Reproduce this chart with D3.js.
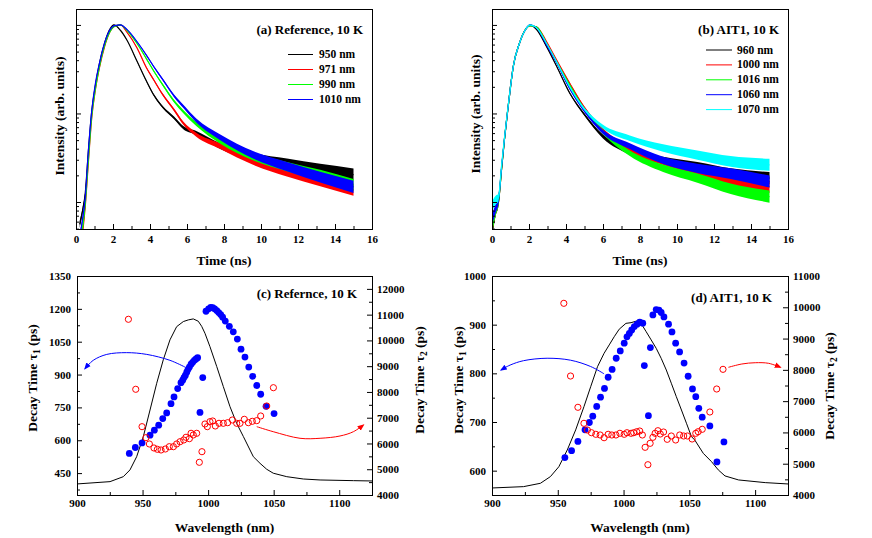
<!DOCTYPE html>
<html><head><meta charset="utf-8">
<script src="https://cdn.jsdelivr.net/npm/d3@7"></script>
<style>
body{margin:0;background:#fff;}
svg{display:block;}
</style></head><body>
<svg id="chart" width="872" height="538"></svg>
<script>
// ---------------- DATA ----------------
// Panel (a): Reference, 10 K — normalized intensity vs time (ns)
const tA = [0.2,0.35,0.5,0.67,0.85,1.05,1.25,1.55,1.85,2.05,2.4,2.75,3.3,3.8,4.2,4.7,5.3,5.8,6.5,7.8,9.6,11.4,13.2,15.0];
const a950  = [0.0056,0.0079,0.0126,0.038,0.105,0.209,0.355,0.631,0.912,1.0,0.871,0.676,0.389,0.234,0.162,0.117,0.0891,0.0692,0.0603,0.0427,0.0324,0.0275,0.0234,0.0204];
const a971  = [0.0032,0.0045,0.0089,0.0282,0.0891,0.186,0.316,0.575,0.851,0.955,1.0,0.832,0.55,0.331,0.24,0.162,0.11,0.0776,0.0575,0.0427,0.0288,0.0219,0.0174,0.0138];
const a990  = [0.0032,0.005,0.0095,0.0302,0.0933,0.191,0.324,0.589,0.851,0.955,1.0,0.871,0.617,0.417,0.302,0.209,0.138,0.105,0.0759,0.049,0.0324,0.0251,0.02,0.0155];
const a1010 = [0.004,0.0063,0.0112,0.038,0.107,0.219,0.355,0.631,0.891,0.977,1.0,0.891,0.646,0.457,0.339,0.24,0.158,0.12,0.0832,0.0537,0.0339,0.0251,0.0191,0.0148];
const noiseA = [0.04,0.03,0.02,0.01,0.006,0.004,0.003,0.003,0.003,0.003,0.003,0.004,0.006,0.008,0.01,0.012,0.015,0.018,0.022,0.032,0.042,0.052,0.062,0.07]; // half-width (decades) of noise band
const legendA = ["950 nm","971 nm","990 nm","1010 nm"];

// Panel (b): AIT1, 10 K
const tB = [0,0.2,0.35,0.52,0.67,0.83,1.0,1.15,1.48,1.85,2.05,2.4,2.95,3.5,4.2,4.95,6.0,7.45,9.25,11.1,12.9,15.0];
const b960  = [0.0045,0.0079,0.01,0.024,0.0501,0.1,0.2,0.339,0.617,0.912,1.0,0.891,0.569,0.339,0.17,0.1,0.055,0.0372,0.0295,0.0251,0.0209,0.0186];
const b1000 = [0.005,0.0079,0.01,0.024,0.0501,0.1,0.2,0.339,0.617,0.912,0.977,0.955,0.646,0.398,0.219,0.12,0.0646,0.0389,0.0288,0.0219,0.0178,0.0148];
const b1016 = [0.005,0.0079,0.01,0.024,0.0501,0.1,0.2,0.339,0.617,0.912,0.977,0.955,0.617,0.38,0.209,0.115,0.0617,0.0355,0.024,0.0186,0.0141,0.0115];
const b1060 = [0.0063,0.0085,0.0105,0.025,0.051,0.1,0.2,0.339,0.617,0.912,1.0,0.933,0.594,0.372,0.191,0.11,0.0617,0.0427,0.0295,0.024,0.0209,0.017];
const b1070 = [0.0089,0.0105,0.0112,0.0263,0.052,0.102,0.2,0.339,0.617,0.912,1.0,0.933,0.617,0.38,0.2,0.115,0.0708,0.0525,0.0407,0.0339,0.0288,0.0263];
const noiseB = [0.06,0.05,0.04,0.02,0.01,0.006,0.005,0.004,0.003,0.003,0.003,0.003,0.004,0.006,0.01,0.015,0.022,0.032,0.042,0.052,0.06,0.068];
const legendB = ["960 nm","1000 nm","1016 nm","1060 nm","1070 nm"];

// Panel (c): Reference — decay times vs wavelength (nm)
const cWl1 = [939.9,944.5,949.6,955.7,959,962.3,965.4,968.4,971.7,974,976.8,979.3,980.6,981.6,982.6,983.7,984.7,985.7,987,988.2,989.5,990.8,992,993.8,995.9,998.4,1000.4,1002,1003.5,1005,1006.6,1008.1,1009.6,1011.1,1013.1,1016.2,1019.2,1022.3,1025.1,1028.1,1031,1034,1037.1,1040.1,1044.2,1050.3];
const cTau1 = [540,567,588,623,646,669,699,725,767,798,836,863,874,886,896,911,924,934,947,956,965,971,977,727,886,1189,1200,1207,1205,1200,1192,1183,1174,1162,1144,1120,1095,1062,1016,980,934,892,850,810,755,722];
const cWl2 = [939.2,944.8,949.6,952.6,955.2,958.7,961.3,964.1,967.4,970.4,973.5,976,978.6,981.4,983.1,985.7,987,988.7,991.3,993.3,995.3,997.6,999.4,1001.4,1003.5,1005.5,1008.3,1011.6,1014.9,1018.5,1021.8,1024.3,1027.6,1030.7,1033.7,1037.1,1040.1,1044.7,1049.8];
const cTau2 = [10820,8103,6652,6225,5980,5825,5774,5747,5786,5875,5875,5980,6069,6135,6240,6186,6395,6330,6395,5269,5681,6756,6652,6846,6873,6679,6783,6783,6807,6911,6783,6783,6938,6807,6860,6886,7067,7455,8165];
const cPLWl = [900,925.2,935.3,940.4,945.5,950.6,955.7,960.8,965.8,970.9,976,981.1,984.9,988.7,992.5,995.1,997.6,1001.4,1006.6,1011.6,1016.7,1021.8,1026.9,1034.5,1039.6,1044.7,1049.7,1060,1072.6,1085.4,1110.8,1125];
const cPL = [0,0.014,0.044,0.085,0.165,0.287,0.448,0.61,0.752,0.873,0.953,0.984,0.994,1.0,0.986,0.955,0.913,0.832,0.711,0.59,0.468,0.367,0.287,0.165,0.125,0.089,0.065,0.044,0.03,0.024,0.02,0.018];
const cArrow1Wl = [982.4,970.9,953.2,937.9,922.7,912.4,906.1], cArrow1Tau = [934,965,992,1000,992,965,927];
const cArrow2Wl = [1037.1,1049.7,1070.1,1085.4,1100.6,1110.8,1118.4], cArrow2Tau = [6652,6457,6201,6201,6290,6457,6717];

// Panel (d): AIT1
const dWl1 = [955.4,960.5,965.3,970.7,974,976.6,979.6,982.5,985.5,988.3,991.3,994.4,997.5,1000.5,1002.6,1004.4,1006.2,1008.2,1010.3,1012.3,1014.6,1015.8,1018.9,1020.4,1022.3,1024.8,1026.9,1028.6,1030.7,1034.2,1036.8,1039.6,1042.6,1046,1049.1,1052.4,1054.9,1057.2,1059.8,1065.6,1071,1076.3];
const dTau1 = [627,641,660,684,699,712,732,751,769,792,808,831,846,862,875,882,889,896,901,905,903,816,713,853,920,931,930,925,916,901,885,862,844,821,794,768,752,728,710,692,618,659];
const dWl2 = [954.6,959.7,965.3,969.9,972.5,975.6,978.9,982.2,985.2,988.3,991.1,994.2,997.2,1000.5,1002.6,1005.7,1007.7,1010,1012.3,1014.3,1016.4,1018.5,1020.2,1022.3,1024,1026.1,1027.9,1030.4,1033.2,1036.3,1039.6,1042.7,1045.7,1048.5,1052.1,1054.9,1056.7,1059.8,1065.6,1070.8,1075.6];
const dTau2 = [10127,7803,6803,6291,6077,5991,5940,5918,5831,5940,5918,5918,5972,5940,5991,5972,5991,6023,6045,5918,5524,4968,5652,5844,5972,6055,5949,6013,5780,5886,5758,5918,5886,5886,5790,5972,6023,6100,6653,7388,8017];
const dPLWl = [900,924,936.8,944.4,950.8,957.2,963.6,969.9,975,980.2,985.2,989.1,992.9,996.7,1001.8,1005.7,1010.8,1013.3,1017.2,1021,1024.8,1028.6,1032.5,1036.3,1040.1,1044,1047.8,1051.6,1054.1,1060.6,1066.9,1072,1077.1,1087.4,1107.7,1125];
const dPL = [0,0.008,0.028,0.068,0.127,0.227,0.347,0.486,0.605,0.725,0.805,0.855,0.904,0.949,0.984,0.988,1.0,0.984,0.934,0.885,0.835,0.775,0.705,0.626,0.546,0.466,0.387,0.307,0.287,0.207,0.157,0.108,0.072,0.048,0.032,0.024];
const dArrow1Wl = [985.2,975,959.7,941.9,924,913.8,906.9], dArrow1Tau = [799,814,827,831,826,817,807];
const dArrow2Wl = [1079.7,1089.9,1100.1,1110.3,1119.2], dArrow2Tau = [8081,8187,8228,8209,8081];

// tick values
const timeTicks = [0,2,4,6,8,10,12,14,16];
const wlTicks = [900,950,1000,1050,1100];
const cLeftTicks = [450,600,750,900,1050,1200,1350];
const cRightTicks = [4000,5000,6000,7000,8000,9000,10000,11000,12000];
const dLeftTicks = [600,700,800,900,1000];
const dRightTicks = [4000,5000,6000,7000,8000,9000,10000,11000];

// ---------------- DRAWING ----------------
const FONT = '"Liberation Serif","Times New Roman",serif';
const svg = d3.select("#chart").attr("font-family", FONT).attr("font-weight","bold");
svg.append("rect").attr("width",872).attr("height",538).attr("fill","#fff");
const defs = svg.append("defs");
function marker(id,color){
  defs.append("marker").attr("id",id).attr("viewBox","0 0 10 10").attr("refX",8).attr("refY",5)
    .attr("markerWidth",7).attr("markerHeight",7).attr("markerUnits","userSpaceOnUse").attr("orient","auto")
    .append("path").attr("d","M0,1 L10,5 L0,9 Z").attr("fill",color);
}
marker("arrB","#0000ff"); marker("arrR","#ff0000");

function styleAxis(g,size){
  g.attr("font-family",FONT).attr("font-size",size).attr("font-weight","bold");
  g.select(".domain").remove();
  g.selectAll("line").attr("stroke","#000");
  g.selectAll("text").attr("fill","#000");
}
let clipN = 0;
function clipFor(P){
  const id = "clip"+(clipN++);
  defs.append("clipPath").attr("id",id).append("rect").attr("x",P.l).attr("y",P.t).attr("width",P.r-P.l).attr("height",P.b-P.t);
  return "url(#"+id+")";
}
function frame(P){
  svg.append("rect").attr("x",P.l+0.5).attr("y",P.t+0.5).attr("width",P.r-P.l).attr("height",P.b-P.t)
    .attr("fill","none").attr("stroke","#000").attr("stroke-width",1);
}
function vText(x,y,parts,size){
  const t = svg.append("text").attr("transform",`translate(${x},${y}) rotate(-90)`).attr("text-anchor","middle")
    .attr("font-size",size).attr("dy","0.35em").attr("fill","#000");
  parts.forEach(p=>{
    const s = t.append("tspan").text(p.t);
    if(p.sub){ s.attr("font-size",size*0.7).attr("dy",3); }
    if(p.after){ s.attr("dy",-3); }
  });
}

function decayPanel(P, times, series, noise, title, legend){
  const x = d3.scaleLinear().domain([0,16]).range([P.l,P.r]);
  const y = d3.scaleLog().domain([Math.pow(10,-2.305), Math.pow(10,0.18)]).range([P.b,P.t]);
  const g = svg.append("g").attr("clip-path", clipFor(P));
  series.forEach(s=>{
    const pts = times.map((t,i)=>({t:t, v:s.values[i], n:noise[i]}));
    g.append("path").datum(pts)
      .attr("d", d3.area().curve(d3.curveMonotoneX).x(d=>x(d.t)).y0(d=>y(d.v*Math.pow(10,-d.n))).y1(d=>y(d.v*Math.pow(10,d.n))))
      .attr("fill", s.color);
    g.append("path").datum(pts)
      .attr("d", d3.line().curve(d3.curveMonotoneX).x(d=>x(d.t)).y(d=>y(d.v)))
      .attr("fill","none").attr("stroke",s.color).attr("stroke-width",1.2);
  });
  frame(P);
  const gb = svg.append("g").attr("transform",`translate(0,${P.b})`)
    .call(d3.axisBottom(x).tickValues(timeTicks).tickSize(-5).tickPadding(6).tickFormat(d3.format("d")));
  styleAxis(gb,11);
  const gbm = svg.append("g").attr("transform",`translate(0,${P.b})`)
    .call(d3.axisBottom(x).tickValues(d3.range(1,16,2)).tickSize(-3).tickFormat(""));
  styleAxis(gbm,11);
  const gl = svg.append("g").attr("transform",`translate(${P.l},0)`)
    .call(d3.axisLeft(y).tickValues([0.01,0.1,1]).tickSize(-5).tickFormat(""));
  styleAxis(gl,11);
  const minor = [];
  [0.001,0.01,0.1].forEach(dec=>{ for(let k=2;k<=9;k++){ const v=k*dec; if(v>=y.domain()[0] && v<=y.domain()[1]) minor.push(v);} });
  const glm = svg.append("g").attr("transform",`translate(${P.l},0)`)
    .call(d3.axisLeft(y).tickValues(minor).tickSize(-3).tickFormat(""));
  styleAxis(glm,11);
  // labels
  svg.append("text").attr("x",(P.l+P.r)/2).attr("y",P.b+31).attr("text-anchor","middle").attr("font-size",13.5).attr("dy","0.35em").text("Time (ns)");
  vText(P.ylabX, P.ylabY, [{t:"Intensity (arb. units)"}], 13.5);
  svg.append("text").attr("x",title.x).attr("y",title.y).attr("text-anchor","end").attr("font-size",13).attr("dy","0.35em").text(title.t);
  series.forEach((s,i)=>{
    const yy = legend.y0 + i*legend.dy;
    svg.append("line").attr("x1",legend.x0).attr("x2",legend.x1).attr("y1",yy+0.5).attr("y2",yy+0.5).attr("stroke",s.color).attr("stroke-width",1);
    svg.append("text").attr("x",legend.tx).attr("y",yy).attr("dy","0.35em").attr("font-size",11.5).text(s.name);
  });
}

function tauPanel(P, cfg){
  const x = d3.scaleLinear().domain([900,1125]).range([P.l,P.r]);
  const yL = d3.scaleLinear().domain(cfg.yL).range([P.b,P.t]);
  const yR = d3.scaleLinear().domain(cfg.yR).range([P.b,P.t]);
  const yP = d3.scaleLinear().domain(cfg.yP).range([P.b,P.t]);
  const g = svg.append("g").attr("clip-path", clipFor(P));
  g.append("path").datum(d3.zip(cfg.plWl,cfg.pl))
    .attr("d", d3.line().x(d=>x(d[0])).y(d=>yP(d[1])))
    .attr("fill","none").attr("stroke","#000").attr("stroke-width",1);
  g.append("path").datum(d3.zip(cfg.a1Wl,cfg.a1Tau))
    .attr("d", d3.line().curve(d3.curveCatmullRom).x(d=>x(d[0])).y(d=>yL(d[1])))
    .attr("fill","none").attr("stroke","#0000ff").attr("stroke-width",1).attr("marker-end","url(#arrB)");
  g.append("path").datum(d3.zip(cfg.a2Wl,cfg.a2Tau))
    .attr("d", d3.line().curve(d3.curveCatmullRom).x(d=>x(d[0])).y(d=>yR(d[1])))
    .attr("fill","none").attr("stroke","#ff0000").attr("stroke-width",1).attr("marker-end","url(#arrR)");
  g.selectAll(null).data(d3.zip(cfg.wl1,cfg.tau1)).enter().append("circle")
    .attr("cx",d=>x(d[0])).attr("cy",d=>yL(d[1])).attr("r",3.4).attr("fill","#0000ff");
  g.selectAll(null).data(d3.zip(cfg.wl2,cfg.tau2)).enter().append("circle")
    .attr("cx",d=>x(d[0])).attr("cy",d=>yR(d[1])).attr("r",3.1).attr("fill","none").attr("stroke","#ff0000").attr("stroke-width",1);
  frame(P);
  const gb = svg.append("g").attr("transform",`translate(0,${P.b})`)
    .call(d3.axisBottom(x).tickValues(wlTicks).tickSize(-5).tickPadding(4).tickFormat(d3.format("d")));
  styleAxis(gb,11);
  const gbm = svg.append("g").attr("transform",`translate(0,${P.b})`)
    .call(d3.axisBottom(x).tickValues([925,975,1025,1075]).tickSize(-3).tickFormat(""));
  styleAxis(gbm,11);
  const gl = svg.append("g").attr("transform",`translate(${P.l},0)`)
    .call(d3.axisLeft(yL).tickValues(cfg.lt).tickSize(-5).tickPadding(6).tickFormat(d3.format("d")));
  styleAxis(gl,11);
  const glm = svg.append("g").attr("transform",`translate(${P.l},0)`)
    .call(d3.axisLeft(yL).tickValues(cfg.lm).tickSize(-3).tickFormat(""));
  styleAxis(glm,11);
  const gr = svg.append("g").attr("transform",`translate(${P.r},0)`)
    .call(d3.axisRight(yR).tickValues(cfg.rt).tickSize(-5).tickPadding(5).tickFormat(d3.format("d")));
  styleAxis(gr,11);
  const grm = svg.append("g").attr("transform",`translate(${P.r},0)`)
    .call(d3.axisRight(yR).tickValues(cfg.rm).tickSize(-3).tickFormat(""));
  styleAxis(grm,11);
  svg.append("text").attr("x",(P.l+P.r)/2).attr("y",P.b+32).attr("text-anchor","middle").attr("font-size",13.5).attr("dy","0.35em").text("Wavelength (nm)");
  vText(cfg.ylX, cfg.ylY, [{t:"Decay Time \u03c4"},{t:"1",sub:true},{t:" (ps)",after:true}], 13.5);
  vText(cfg.yrX, cfg.yrY, [{t:"Decay Time \u03c4"},{t:"2",sub:true},{t:" (ps)",after:true}], 13.5);
  svg.append("text").attr("x",cfg.title.x).attr("y",cfg.title.y).attr("text-anchor","end").attr("font-size",13).attr("dy","0.35em").text(cfg.title.t);
}

// Panel a
decayPanel({l:76,r:372,t:9,b:229,ylabX:59,ylabY:116}, tA,
  [{name:legendA[0],color:"#000000",values:a950},{name:legendA[1],color:"#ff0000",values:a971},
   {name:legendA[2],color:"#00ff00",values:a990},{name:legendA[3],color:"#0000ff",values:a1010}],
  noiseA, {t:"(a) Reference, 10 K",x:363,y:29}, {x0:288,x1:313,tx:319,y0:54,dy:15});
// Panel b
decayPanel({l:492,r:788,t:9,b:229,ylabX:475,ylabY:114}, tB,
  [{name:legendB[0],color:"#000000",values:b960},{name:legendB[1],color:"#ff0000",values:b1000},
   {name:legendB[2],color:"#00ff00",values:b1016},{name:legendB[3],color:"#0000ff",values:b1060},
   {name:legendB[4],color:"#00ffff",values:b1070}],
  noiseB, {t:"(b) AIT1, 10 K",x:779,y:29}, {x0:706,x1:732,tx:737,y0:49.5,dy:14.9});
// Panel c
tauPanel({l:77,r:372,t:276,b:495}, {
  yL:[350,1350], yR:[4000,12500], yP:[-0.067,1.26],
  wl1:cWl1, tau1:cTau1, wl2:cWl2, tau2:cTau2, plWl:cPLWl, pl:cPL,
  a1Wl:cArrow1Wl, a1Tau:cArrow1Tau, a2Wl:cArrow2Wl, a2Tau:cArrow2Tau,
  lt:cLeftTicks, lm:[375,525,675,825,975,1125,1275], rt:cRightTicks, rm:[4500,5500,6500,7500,8500,9500,10500,11500],
  ylX:32, ylY:378, yrX:419, yrY:380, title:{t:"(c) Refernce, 10 K",x:357,y:293}
});
// Panel d
tauPanel({l:492,r:788,t:276,b:495}, {
  yL:[550,1000], yR:[4000,11000], yP:[-0.042,1.267],
  wl1:dWl1, tau1:dTau1, wl2:dWl2, tau2:dTau2, plWl:dPLWl, pl:dPL,
  a1Wl:dArrow1Wl, a1Tau:dArrow1Tau, a2Wl:dArrow2Wl, a2Tau:dArrow2Tau,
  lt:dLeftTicks, lm:[650,750,850,950], rt:dRightTicks, rm:[4500,5500,6500,7500,8500,9500,10500],
  ylX:458, ylY:380, yrX:829, yrY:386, title:{t:"(d) AIT1, 10 K",x:772,y:297}
});
</script>
</body></html>
